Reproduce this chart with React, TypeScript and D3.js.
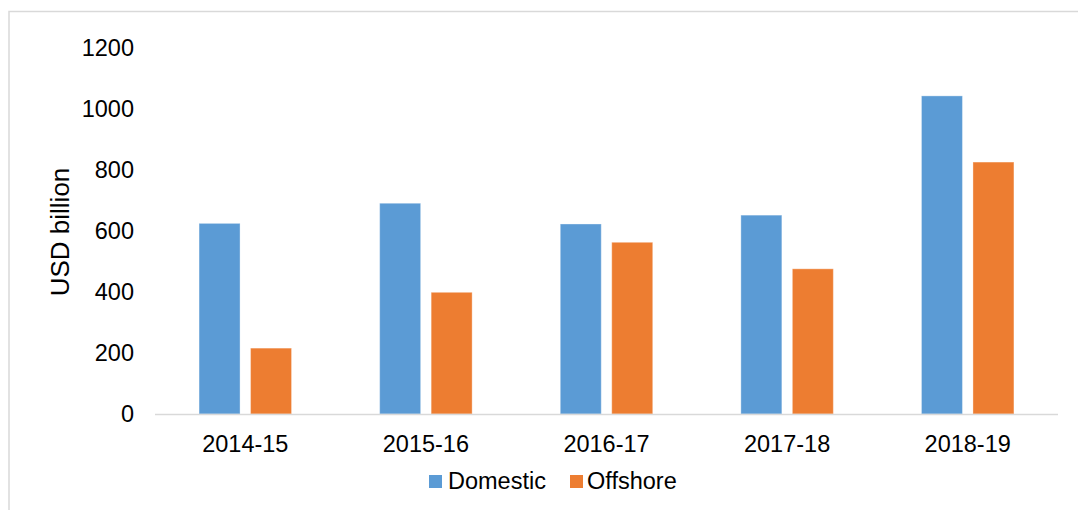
import React from "react";
import * as d3 from "d3";

const categories = ["2014-15", "2015-16", "2016-17", "2017-18", "2018-19"];
const seriesNames = ["Domestic", "Offshore"];
const domestic = [625, 691, 623, 652, 1043];
const offshore = [216, 399, 563, 476, 826];
const yTicks = [0, 200, 400, 600, 800, 1000, 1200];
const colors = ["#5B9BD5", "#ED7D31"];

export default function App() {
  const W = 1078;
  const H = 510;
  const left = 155;
  const right = 1058;
  const top = 48;
  const bottom = 414;
  const font = "Liberation Sans, Arial, sans-serif";
  const fs = 23.5;

  const x0 = d3.scaleBand<string>().domain(categories).range([left, right]).paddingInner(0.488).paddingOuter(0.244);
  const x1 = d3.scaleBand<string>().domain(seriesNames).range([0, x0.bandwidth()]).paddingInner(0.204).paddingOuter(0);
  const y = d3.scaleLinear().domain([0, 1200]).range([bottom, top]);

  const values = [domestic, offshore];

  return (
    <svg width={W} height={H} style={{ position: "absolute", left: 0, top: 0, background: "#fff" }} fontFamily={font}>
      <rect x={0} y={0} width={W} height={H} fill="#fff" />
      <rect x={9} y={11.5} width={1200} height={700} fill="none" stroke="#D9D9D9" strokeWidth={1.5} />
      {yTicks.map((t) => (
        <text key={t} x={134} y={y(t)} dy="0.35em" textAnchor="end" fontSize={fs} fill="#000">
          {t}
        </text>
      ))}
      <text transform={`translate(69,${232}) rotate(-90)`} textAnchor="middle" fontSize={26} fill="#000">
        USD billion
      </text>
      {categories.map((c, i) => (
        <g key={c} transform={`translate(${x0(c)},0)`}>
          {seriesNames.map((s, j) => (
            <rect
              key={s}
              x={x1(s)}
              y={y(values[j][i])}
              width={x1.bandwidth()}
              height={y(0) - y(values[j][i])}
              fill={colors[j]}
              stroke="rgba(255,255,255,0.35)"
              strokeWidth={1}
            />
          ))}
        </g>
      ))}
      <line x1={left} x2={right} y1={bottom + 0.5} y2={bottom + 0.5} stroke="#D9D9D9" strokeWidth={1.5} />
      {categories.map((c) => (
        <text key={c} x={(x0(c) as number) + x0.bandwidth() / 2} y={444} dy="0.35em" textAnchor="middle" fontSize={fs} fill="#000">
          {c}
        </text>
      ))}
      <rect x={429} y={475} width={13} height={13} fill={colors[0]} />
      <text x={448} y={481} dy="0.35em" fontSize={fs} fill="#000">Domestic</text>
      <rect x={570} y={475} width={13} height={13} fill={colors[1]} />
      <text x={587} y={481} dy="0.35em" fontSize={fs} fill="#000">Offshore</text>
    </svg>
  );
}
